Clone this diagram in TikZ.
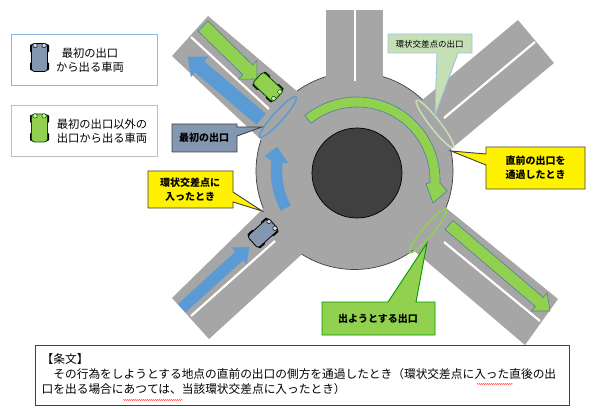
\documentclass[tikz,border=0pt]{standalone}
\usepackage{xcolor}
\usepackage{fontspec}
\setmainfont{Noto Sans CJK JP}
\usepackage{tikz}
\usetikzlibrary{calc, shapes.geometric, decorations.pathmorphing}
\definecolor{myroad}{RGB}{166,166,166}
\definecolor{mydark}{RGB}{64,64,64}
\definecolor{myblue}{RGB}{91,155,213}
\definecolor{mygreen}{RGB}{146,208,80}
\definecolor{mypale}{RGB}{197,224,180}
\definecolor{mycar}{RGB}{132,151,176}
\definecolor{myedge}{RGB}{80,125,160}
\newcommand{\caricon}[2]{
  \foreach \sx/\sy in {-8/-9, 8/-9, -8/9, 8/9}
    \fill[black, rounded corners=1pt] (\sx-1.5,\sy-4) rectangle (\sx+1.5,\sy+4);
  \draw[fill=#1, draw=#2, line width=0.8pt, rounded corners=3pt] (-8,-14) rectangle (8,14);
  \draw[fill=#1!40!white, draw=#2, line width=0.5pt, rounded corners=1pt] (-6.5,-14) rectangle (-2.5,-10);
  \draw[fill=#1!40!white, draw=#2, line width=0.5pt, rounded corners=1pt] (2.5,-14) rectangle (6.5,-10);
}
\newcommand{\blockarrow}[6]{ % style, tail, tip, half width, half head, head length
  \draw[#1] ($(#2)!#4pt!90:(#3)$) -- ($($(#3)!#6pt!(#2)$)!#4pt!90:(#3)$) -- ($($(#3)!#6pt!(#2)$)!#5pt!90:(#3)$)
    -- (#3) -- ($($(#3)!#6pt!(#2)$)!#5pt!-90:(#3)$) -- ($($(#3)!#6pt!(#2)$)!#4pt!-90:(#3)$) -- ($(#2)!#4pt!-90:(#3)$) -- cycle;
}
\tikzset{
  road/.style={fill=myroad, draw=none},
  laneline/.style={white, line width=2.2pt},
  legendbox/.style={rectangle, fill=white, line width=0.9pt, minimum width=146pt, minimum height=51pt},
  legendtext/.style={align=center, font=\fontsize{11.3}{14}\selectfont, inner sep=0pt},
  calltext/.style={align=center, font=\fontsize{10}{14}\selectfont\bfseries, inner sep=0pt},
  yellowcall/.style={fill=yellow, draw=mydark, line width=0.9pt, line join=miter},
  bluearrow/.style={fill=myblue, draw=myblue, line width=0.3pt},
  greenarrow/.style={fill=mygreen, draw=myedge, line width=0.6pt},
  exitring/.style={ellipse, draw, fill=none, inner sep=0pt, line width=1.5pt},
  bluecar/.pic={\caricon{mycar}{black}},
  greencar/.pic={\caricon{mygreen}{black!70!green}}
}
\begin{document}
\begin{tikzpicture}[x=1pt, y=-1pt]
  \useasboundingbox (0,0) rectangle (600,409);
  % Roundabout
  \draw[fill=myroad, draw=mydark, line width=0.7pt] (354.5,171) circle (98.5);
  \fill[road] (326,10) rectangle (383,100);
  \fill[road] (172,56) -- (208,16) -- (312,104) -- (272,150) -- cycle; % NW
  \fill[road] (518,20) -- (554,63) -- (440,158) -- (408,112) -- cycle; % NE
  \fill[road] (172,298) -- (209,339) -- (312,245) -- (272,200) -- cycle; % SW
  \fill[road] (558,299) -- (525,345) -- (405,243) -- (435,199) -- cycle; % SE
  \draw[laneline] (355,10) -- (355,81);
  \draw[laneline] (191,37) -- (269,109);
  \draw[laneline] (535,42) -- (444,118);
  \draw[laneline] (191,316) -- (275,241);
  \draw[laneline] (444,242) -- (540,321);
  \draw[fill=mydark, draw=black, line width=0.7pt] (357,173) circle (45);

  % Arrows on the roads
  \blockarrow{greenarrow}{203,26}{257,79}{7}{13}{13}
  \blockarrow{bluearrow}{261,119}{188,57}{7}{13}{15}
  \blockarrow{bluearrow}{182,308}{249,247}{5.5}{11}{13}
  \blockarrow{greenarrow}{449,225}{550,311}{6}{12}{14}
  % Curved arrows
  \draw[greenarrow] plot[domain=-129:2, samples=40] ({357+83*cos(\x)},{180+83*sin(\x)})
    -- (447,191) -- (433,203) -- (426,184)
    -- plot[domain=2:-129, samples=40] ({357+73*cos(\x)},{180+73*sin(\x)}) -- cycle;
  \draw[bluearrow] plot[domain=152:187, samples=20] ({355+84*cos(\x)},{171+84*sin(\x)})
    -- (265,156) -- (277,147) -- (288,163)
    -- plot[domain=187:152, samples=20] ({355+73*cos(\x)},{171+73*sin(\x)}) -- cycle;

  % Cars
  \pic[rotate=-133] at (268,87) {greencar};
  \pic[rotate=-48] at (263,233) {bluecar};

  % Exit rings
  \node[exitring, draw=myblue, minimum width=54pt, minimum height=10pt, rotate=48] (firstring) at (278,117) {};
  \node[exitring, draw=mypale, minimum width=60pt, minimum height=10pt, rotate=-52] (passring) at (435,124) {};
  \node[exitring, draw=mygreen, minimum width=56pt, minimum height=10pt, rotate=50] (nextring) at (428,231) {};

  % Legend
  \node[legendbox, draw=myblue!70!white] (bluelegend) at (84,59.5) {};
  \node[legendbox, draw=black!25] (greenlegend) at (84,130.5) {};
  \pic at (39.5,57.5) {bluecar};
  \pic at (39.5,128) {greencar};
  \node[legendtext] (bluetext) at (90,60) {最初の出口\\から出る車両};
  \node[legendtext] (greentext) at (102,131.5) {最初の出口以外の\\出口から出る車両};

  % Callouts
  \draw[fill=mycar, draw=mydark, line width=0.9pt] (172,124) -- (237,124) -- (237,127) -- (262,127) -- (237,136) -- (237,152) -- (172,152) -- cycle;
  \node[calltext] (firstexit) at (204,138) {最初の出口};
  \draw[yellowcall] (148,171) -- (233,171) -- (233,192) -- (262,211) -- (233,202) -- (233,208) -- (148,208) -- cycle;
  \node[calltext] (entered) at (190,189.5) {環状交差点に\\入ったとき};
  \draw[fill=mypale, draw=myblue!60!white, line width=0.9pt] (388,34) -- (472,34) -- (472,53) -- (458,53) -- (435,115) -- (437,53) -- (388,53) -- cycle;
  \node[font=\fontsize{8.5}{10}\selectfont, inner sep=0pt] (ringexit) at (429.5,44) {環状交差点の出口};
  \draw[yellowcall] (486,147) -- (585,147) -- (585,189) -- (486,189) -- (486,165) -- (451,151) -- (486,154) -- cycle;
  \node[calltext] (passed) at (535.5,168) {直前の出口を\\通過したとき};
  \draw[fill=mygreen, draw=green!60!black, line width=0.9pt] (322,302) -- (388,302) -- (427,243) -- (416,302) -- (435,302) -- (435,335) -- (322,335) -- cycle;
  \node[calltext] (nextexit) at (378,318.5) {出ようとする出口};

  % Article text
  \fill[black!50] (36,346) rectangle (570,406);
  \node[draw=mydark, fill=white, line width=0.8pt, minimum width=534pt, minimum height=60pt, inner sep=0pt] (articlebox) at (302,375) {};
  \node[anchor=north west, align=left, inner sep=0pt, font=\fontsize{11.7}{15.4}\selectfont] (articletext) at (41.5,353)
    {【条文】\\\hspace*{1em}その行為をしようとする地点の直前の出口の側方を通過したとき（環状交差点に入った直後の出\\口を出る場合にあつては、当該環状交差点に入ったとき）};
  \draw[red, line width=0.3pt, decorate, decoration={snake, amplitude=0.5pt, segment length=2pt}] (477,384) -- (513,384);
  \draw[red, line width=0.3pt, decorate, decoration={snake, amplitude=0.5pt, segment length=2pt}] (123,400) -- (183,400);
\end{tikzpicture}
\end{document}
